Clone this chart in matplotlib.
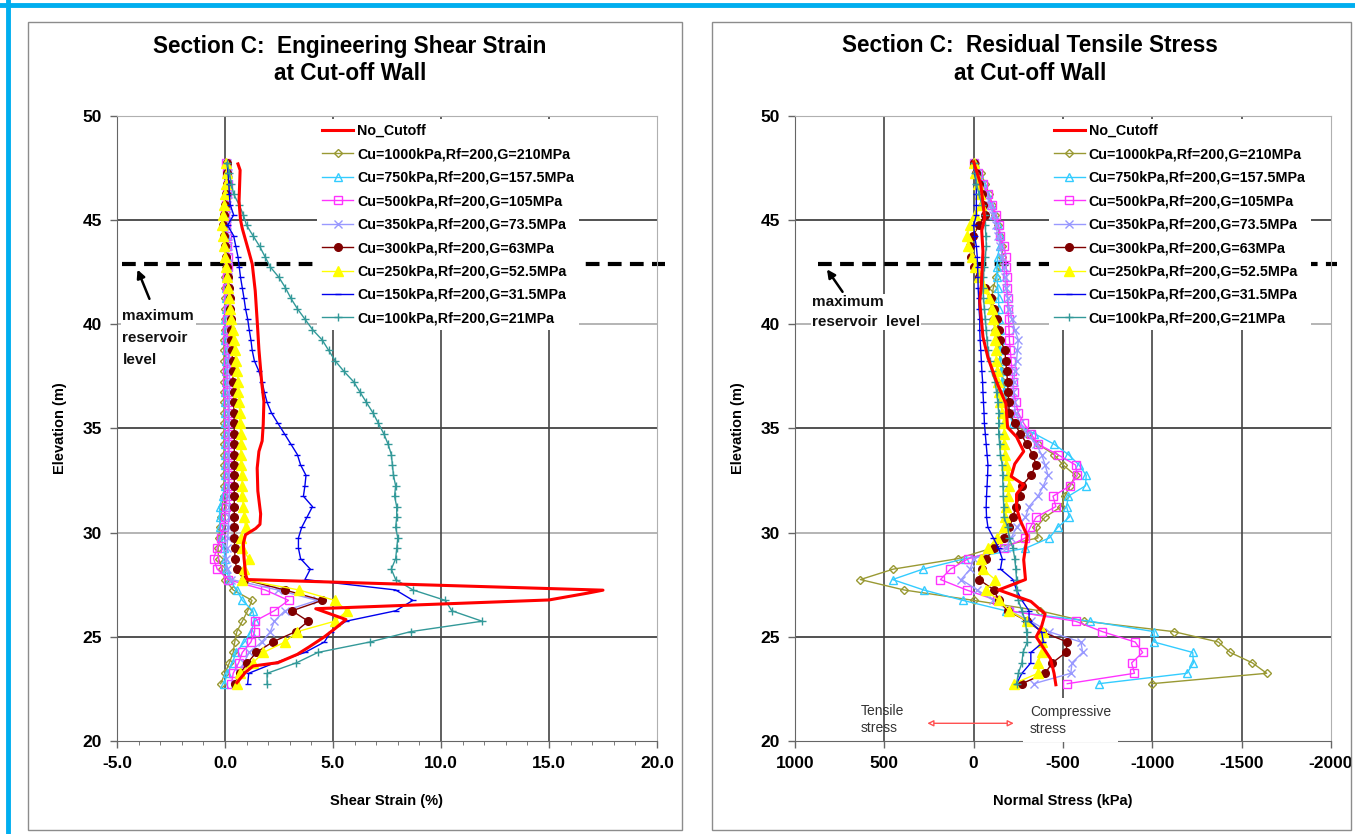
"""
Section C at the cut-off wall: engineering shear strain and residual
normal stress against elevation, for the no-cutoff case and 8 wall strengths.
"""

import matplotlib.pyplot as plt
from matplotlib.lines import Line2D
from matplotlib.patches import Rectangle

plt.rcParams["font.family"] = ["Liberation Sans", "DejaVu Sans"]
plt.rcParams["font.weight"] = "bold"
plt.rcParams["axes.unicode_minus"] = False

# ---------------------------------------------------------------- data
ELEV = [47.75, 47.25, 46.75, 46.25, 45.75, 45.25, 44.75, 44.25, 43.75, 43.25,
        42.75, 42.25, 41.75, 41.25, 40.75, 40.25, 39.75, 39.25, 38.75, 38.25,
        37.75, 37.25, 36.75, 36.25, 35.75, 35.25, 34.75, 34.25, 33.75, 33.25,
        32.75, 32.25, 31.75, 31.25, 30.75, 30.25, 29.75, 29.25, 28.75, 28.25,
        27.75, 27.25, 26.75, 26.25, 25.75, 25.25, 24.75, 24.25, 23.75, 23.25,
        22.75]

SERIES = [
    "Cu=1000kPa,Rf=200,G=210MPa",
    "Cu=750kPa,Rf=200,G=157.5MPa",
    "Cu=500kPa,Rf=200,G=105MPa",
    "Cu=350kPa,Rf=200,G=73.5MPa",
    "Cu=300kPa,Rf=200,G=63MPa",
    "Cu=250kPa,Rf=200,G=52.5MPa",
    "Cu=150kPa,Rf=200,G=31.5MPa",
    "Cu=100kPa,Rf=200,G=21MPa",
]

# shear strain (%) -- no cut-off case has its own elevations
strain_nocut_elev = [47.7, 47.4, 45.9, 45.0, 44.6, 43.5, 42.9, 41.6, 40.0, 38.8,
                     37.2, 36.3, 35.2, 34.4, 33.9, 33.1, 32.0, 30.9, 30.4, 30.2,
                     29.9, 29.5, 28.8, 28.0, 27.75, 27.24, 27.1, 26.77, 26.35, 25.83,
                     25.4, 25.0, 24.52, 24.16, 23.76, 23.6, 23.3, 22.8]
strain_nocut = [0.6, 0.7, 0.65, 0.72, 0.8, 1.1, 1.26, 1.4, 1.5, 1.57,
                1.7, 1.8, 1.77, 1.72, 1.57, 1.49, 1.52, 1.65, 1.62, 1.42,
                0.95, 0.85, 0.88, 0.95, 1.03, 17.5, 16.8, 15.0, 4.2, 5.6,
                5.1, 4.6, 3.9, 3.35, 2.45, 1.3, 0.95, 0.55]

strain_1000 = [0.05, 0.1, 0.1, 0.05, 0.0, -0.05, -0.05, 0.0, 0.05, 0.05,
               0.05, 0.0, 0.0, 0.0, 0.0, 0.0, 0.0, -0.05, -0.05, -0.05,
               -0.05, -0.05, -0.05, -0.05, -0.05, -0.05, -0.05, -0.05, -0.05, -0.05,
               -0.05, -0.05, -0.05, -0.15, -0.2, -0.25, -0.28, -0.32, -0.3, -0.12,
               0.0, 0.38, 1.25, 1.05, 0.8, 0.55, 0.45, 0.38, 0.2, 0.0,
               -0.2]
strain_750 = [0.1, 0.15, 0.15, 0.1, 0.1, 0.05, 0.05, 0.05, 0.1, 0.1,
              0.1, 0.05, 0.05, 0.05, 0.05, 0.0, 0.0, 0.0, 0.05, 0.05,
              0.05, 0.05, 0.0, 0.0, 0.0, 0.0, 0.0, 0.0, 0.0, 0.0,
              0.0, 0.0, -0.1, -0.25, -0.25, -0.22, -0.18, -0.05, 0.0, 0.05,
              0.2, 0.54, 0.8, 1.29, 1.37, 1.2, 0.9, 0.5, 0.35, 0.1,
              -0.03]
strain_500 = [0.05, 0.1, 0.15, 0.1, 0.05, 0.0, 0.05, 0.1, 0.1, 0.15,
              0.15, 0.1, 0.1, 0.15, 0.15, 0.1, 0.1, 0.1, 0.15, 0.15,
              0.1, 0.1, 0.1, 0.15, 0.15, 0.15, 0.15, 0.15, 0.15, 0.15,
              0.15, 0.15, 0.1, 0.05, 0.0, -0.05, -0.2, -0.36, -0.53, -0.36,
              0.13, 1.86, 2.94, 2.28, 1.37, 1.37, 1.2, 0.8, 0.63, 0.38,
              0.3]
strain_350 = [0.1, 0.15, 0.15, 0.15, 0.1, 0.1, 0.1, 0.15, 0.15, 0.15,
              0.15, 0.15, 0.15, 0.2, 0.2, 0.2, 0.2, 0.2, 0.2, 0.2,
              0.2, 0.2, 0.2, 0.2, 0.2, 0.2, 0.2, 0.2, 0.2, 0.2,
              0.2, 0.2, 0.2, 0.2, 0.18, 0.15, 0.13, 0.08, 0.05, 0.1,
              0.3, 2.44, 4.26, 2.77, 2.28, 2.1, 1.7, 1.12, 0.87, 0.63,
              0.46]
strain_300 = [0.1, 0.1, 0.1, 0.05, 0.0, -0.05, -0.1, -0.05, 0.0, 0.05,
              0.1, 0.15, 0.2, 0.22, 0.25, 0.28, 0.3, 0.3, 0.32, 0.35,
              0.35, 0.38, 0.4, 0.4, 0.42, 0.42, 0.43, 0.43, 0.43, 0.43,
              0.43, 0.43, 0.43, 0.43, 0.43, 0.43, 0.43, 0.45, 0.46, 0.54,
              0.87, 2.77, 4.5, 3.1, 3.85, 3.27, 2.2, 1.45, 1.04, 0.71,
              0.46]
strain_250 = [0.05, 0.1, 0.05, 0.0, -0.05, -0.1, -0.15, -0.1, -0.05, 0.0,
              0.05, 0.1, 0.15, 0.2, 0.25, 0.3, 0.35, 0.4, 0.45, 0.5,
              0.55, 0.6, 0.62, 0.65, 0.68, 0.7, 0.72, 0.72, 0.74, 0.75,
              0.78, 0.8, 0.8, 0.85, 0.9, 0.95, 0.75, 0.8, 1.1, 0.9,
              0.8, 3.43, 5.08, 5.66, 5.08, 3.35, 2.77, 1.78, 1.29, 0.71,
              0.54]
strain_150 = [0.1, 0.14, 0.18, 0.2, 0.24, 0.4, 0.12, 0.4, 0.5, 0.6,
              0.66, 0.72, 0.8, 0.88, 0.95, 1.05, 1.12, 1.2, 1.26, 1.36,
              1.57, 1.72, 1.82, 1.95, 2.15, 2.45, 2.75, 3.05, 3.35, 3.5,
              3.75, 3.7, 3.63, 4.05, 3.8, 3.55, 3.4, 3.4, 3.5, 3.95,
              3.7, 7.9, 8.7, 7.9, 5.6, 4.9, 4.6, 3.7, 2.3, 1.1,
              1.05]
strain_100 = [0.1, 0.2, 0.3, 0.4, 0.65, 0.85, 1.0, 1.3, 1.6, 1.85,
              2.1, 2.5, 2.8, 3.05, 3.35, 3.7, 4.05, 4.5, 4.8, 5.1,
              5.5, 5.95, 6.25, 6.55, 6.85, 7.1, 7.35, 7.55, 7.7, 7.75,
              7.8, 7.9, 7.85, 7.95, 7.95, 7.9, 8.0, 7.95, 7.9, 7.7,
              7.9, 8.7, 10.2, 10.5, 11.9, 8.6, 6.7, 4.3, 3.3, 1.95,
              1.95]

# normal stress (kPa), compressive negative
stress_nocut_elev = [47.8, 46.7, 45.1, 44.5, 43.5, 41.9, 41.1, 39.4, 38.4, 37.2,
                     36.2, 35.05, 34.6, 33.9, 33.3, 32.7, 32.3, 31.85, 31.2, 30.6,
                     29.85, 28.7, 27.75, 27.25, 26.7, 26.1, 25.5, 25.0, 23.95, 23.25,
                     22.7]
stress_nocut = [0, -40, -62, -45, -52, -43, -34, -52, -80, -130,
                -180, -190, -240, -280, -230, -210, -280, -240, -240, -260,
                -300, -280, -290, -140, -320, -400, -380, -350, -430, -450,
                -460]

stress_1000 = [-5, -40, -65, -85, -105, -120, -135, -145, -160, -160,
               -145, -125, -110, -100, -100, -110, -120, -130, -140, -150,
               -160, -165, -175, -185, -200, -230, -300, -360, -450, -500,
               -570, -540, -510, -490, -400, -350, -360, -100, 90, 450,
               634, 390, 0, -370, -620, -1120, -1370, -1436, -1560, -1640,
               -996]
stress_750 = [-5, -30, -55, -75, -95, -115, -135, -150, -145, -135,
              -130, -130, -135, -140, -140, -140, -145, -150, -150, -150,
              -155, -160, -170, -180, -195, -220, -340, -450, -530, -590,
              -630, -626, -530, -520, -536, -470, -424, -290, 50, 284,
              454, 280, 60, -180, -650, -1010, -1010, -1226, -1230, -1194,
              -700]
stress_500 = [0, -25, -50, -80, -105, -125, -140, -150, -170, -180,
              -182, -185, -188, -190, -192, -195, -198, -200, -205, -210,
              -215, -220, -225, -235, -250, -280, -320, -360, -470, -570,
              -580, -540, -444, -460, -350, -316, -290, -170, 30, 130,
              186, 40, -130, -200, -570, -720, -904, -946, -884, -900,
              -524]
stress_350 = [0, -20, -45, -70, -90, -110, -125, -135, -150, -160,
              -170, -175, -180, -190, -200, -215, -230, -250, -245, -240,
              -230, -225, -220, -225, -235, -260, -300, -350, -380, -400,
              -416, -390, -360, -310, -290, -240, -210, -180, 0, 20,
              70, -20, -110, -200, -320, -420, -600, -610, -550, -544,
              -336]
stress_300 = [0, -15, -30, -45, -55, -62, -30, 5, 20, 15,
              0, -30, -65, -95, -115, -130, -140, -150, -174, -180,
              -184, -190, -193, -196, -200, -230, -260, -300, -330, -350,
              -320, -270, -260, -236, -220, -200, -170, -116, -70, -45,
              -30, -114, -140, -190, -300, -380, -524, -516, -440, -400,
              -270]
stress_250 = [0, -10, -25, -35, -43, -10, 20, 40, 30, 10,
              -10, -30, -60, -85, -100, -110, -118, -122, -125, -127,
              -130, -135, -140, -150, -160, -170, -170, -170, -175, -180,
              -190, -200, -190, -180, -175, -170, -130, -80, -40, -50,
              -120, -70, -140, -200, -300, -390, -385, -380, -360, -360,
              -224]
stress_150 = [0, -5, -15, -15, -15, -15, 0, -5, -15, -20,
              -22, -24, -25, -28, -30, -34, -34, -36, -40, -43,
              -46, -50, -52, -55, -58, -60, -65, -70, -75, -80,
              -78, -75, -72, -70, -72, -80, -110, -140, -160, -150,
              -220, -240, -270, -310, -310, -380, -390, -320, -320, -270,
              -240]
stress_100 = [0, -10, -15, -30, -45, -62, -65, -68, -71, -65,
              -58, -55, -52, -55, -60, -65, -70, -75, -80, -90,
              -100, -120, -128, -135, -140, -140, -140, -145, -150, -160,
              -162, -164, -166, -168, -170, -190, -200, -220, -230, -236,
              -240, -240, -250, -270, -290, -296, -300, -276, -270, -250,
              -240]

strain_series = [strain_1000, strain_750, strain_500, strain_350,
                 strain_300, strain_250, strain_150, strain_100]
stress_series = [stress_1000, stress_750, stress_500, stress_350,
                 stress_300, stress_250, stress_150, stress_100]

RESERVOIR_LEVEL = 42.9

# ---------------------------------------------------------------- styles
styles = [
    {"color": "#999933", "marker": "D", "mfc": "none", "ms": 4.5},
    {"color": "#33CCFF", "marker": "^", "mfc": "none", "ms": 6},
    {"color": "#FF33FF", "marker": "s", "mfc": "none", "ms": 5.5},
    {"color": "#9999FF", "marker": "x", "mfc": "none", "ms": 5.5},
    {"color": "#800000", "marker": "o", "mfc": "#800000", "ms": 5.5},
    {"color": "#FFFF00", "marker": "^", "mfc": "#FFFF00", "ms": 6.5},
    {"color": "#0000EE", "marker": "_", "mfc": "#0000EE", "ms": 5},
    {"color": "#339999", "marker": "+", "mfc": "#339999", "ms": 6},
]
RED = "#FF0000"

W, H = 1355, 834
fig = plt.figure(figsize=(W / 100, H / 100), dpi=100)

# page decorations: cyan frame, grey panel boxes
fig.add_artist(Line2D([0, 1], [1 - 5 / H, 1 - 5 / H], color="#00AEEF", lw=3.5))
fig.add_artist(Line2D([8 / W, 8 / W], [0, 1], color="#00AEEF", lw=3.5))
for x0, x1 in [(28, 682), (712, 1351)]:
    fig.add_artist(Rectangle((x0 / W, 1 - 830 / H), (x1 - x0) / W, (830 - 22) / H,
                             fill=False, ec="#8c8c8c", lw=1, transform=fig.transFigure))


def style_axes(ax, vgrid):
    ax.set_ylim(20, 50)
    ax.set_yticks([20, 25, 30, 35, 40, 45, 50])
    for y, c in [(45, "#222222"), (40, "#a0a0a0"), (35, "#222222"),
                 (30, "#a0a0a0"), (25, "#222222")]:
        ax.axhline(y, color=c, lw=1.1, zorder=0.5)
    for x in vgrid:
        ax.axvline(x, color="#444444", lw=1.2, zorder=0.5)
    for side in ["top", "right"]:
        ax.spines[side].set_color("#b0b0b0")
    for side in ["left", "bottom"]:
        ax.spines[side].set_color("#666666")
    ax.tick_params(axis="both", which="major", direction="out", length=5,
                   color="#666666", labelsize=12.5, width=1, pad=6)
    ax.tick_params(axis="both", which="minor", direction="out", length=3,
                   color="#666666")
    for lbl in ax.get_xticklabels() + ax.get_yticklabels():
        lbl.set_fontweight("bold")
    ax.set_ylabel("Elevation (m)", fontsize=10.5, fontweight="bold", labelpad=11)


def draw_curves(ax, nocut_x, nocut_y, series):
    ax.plot(nocut_x, nocut_y, color=RED, lw=2.2, label="No_Cutoff", zorder=4)
    for vals, lab, st in zip(series, SERIES, styles):
        ax.plot(vals, ELEV, color=st["color"], lw=1, marker=st["marker"],
                ms=st["ms"], mfc=st["mfc"], mec=st["color"], mew=1,
                label=lab, zorder=3)


def add_legend(ax, x_anchor):
    leg = ax.legend(loc="upper left", bbox_to_anchor=(x_anchor, 1.0), fontsize=10.3,
                    frameon=True, facecolor="white", edgecolor="none", framealpha=1,
                    handlelength=2.2, handletextpad=0.25, labelspacing=0.66,
                    borderpad=0.35, borderaxespad=0.2)
    leg.set_zorder(6)


# ---------------------------------------------------------------- left panel
ax1 = fig.add_axes([117 / W, 1 - 741 / H, 540 / W, 625 / H])
ax1.set_xlim(-5, 20)
ax1.set_xticks([-5, 0, 5, 10, 15, 20])
ax1.set_xticklabels(["-5.0", "0.0", "5.0", "10.0", "15.0", "20.0"])
ax1.set_xticks(range(-5, 21), minor=True)
style_axes(ax1, [0, 5, 10, 15])
draw_curves(ax1, strain_nocut, strain_nocut_elev, strain_series)
ax1.axhline(RESERVOIR_LEVEL, xmin=0.01, xmax=1.015, color="black", lw=3,
            dashes=(3.3, 2.0), zorder=2, clip_on=False)
ax1.set_xlabel("Shear Strain (%)", fontsize=10.5, fontweight="bold", labelpad=16)
add_legend(ax1, 0.365)
ax1.text(-4.75, 40.75, "maximum\nreservoir\nlevel", fontsize=11, fontweight="bold",
         va="top", ha="left", linespacing=1.72, color="#111111", zorder=5,
         bbox=dict(fc="white", ec="none", pad=1))
ax1.annotate("", xy=(-4.1, 42.75), xytext=(-3.45, 41.1),
             arrowprops=dict(arrowstyle="-|>", color="black", lw=1.8,
                             mutation_scale=12), zorder=5)
fig.text(350 / W, 1 - 46 / H, "Section C:  Engineering Shear Strain",
         ha="center", va="center", fontsize=16.3, fontweight="bold")
fig.text(350 / W, 1 - 74 / H, "at Cut-off Wall",
         ha="center", va="center", fontsize=16.3, fontweight="bold")

# ---------------------------------------------------------------- right panel
ax2 = fig.add_axes([795 / W, 1 - 741 / H, 536 / W, 625 / H])
ax2.set_xlim(1000, -2000)
ax2.set_xticks([1000, 500, 0, -500, -1000, -1500, -2000])
style_axes(ax2, [500, 0, -500, -1000, -1500])
draw_curves(ax2, stress_nocut, stress_nocut_elev, stress_series)
ax2.axhline(RESERVOIR_LEVEL, xmin=0.043, xmax=1.012, color="black", lw=3,
            dashes=(3.3, 2.0), zorder=2, clip_on=False)
ax2.set_xlabel("Normal Stress (kPa)", fontsize=10.5, fontweight="bold", labelpad=16)
add_legend(ax2, 0.468)
ax2.text(905, 41.4, "maximum\nreservoir  level", fontsize=11, fontweight="bold",
         va="top", ha="left", linespacing=1.5, color="#111111", zorder=5,
         bbox=dict(fc="white", ec="none", pad=1))
ax2.annotate("", xy=(830, 42.75), xytext=(725, 41.45),
             arrowprops=dict(arrowstyle="-|>", color="black", lw=1.8,
                             mutation_scale=12), zorder=5)
ax2.text(630, 21.05, "Tensile\nstress", fontsize=10, fontweight="normal",
         color="#333333", va="center", ha="left", linespacing=1.25)
ax2.text(-315, 21.0, "Compressive\nstress", fontsize=10, fontweight="normal",
         color="#333333", va="center", ha="left", linespacing=1.25, zorder=6,
         clip_on=False, bbox=dict(fc="white", ec="none", pad=5))
ax2.annotate("", xy=(-240, 20.85), xytext=(275, 20.85),
             arrowprops=dict(arrowstyle="<|-|>", color="#FF5050", fc="white",
                             lw=1, mutation_scale=9), zorder=5)
fig.text(1030 / W, 1 - 46 / H, "Section C:  Residual Tensile Stress",
         ha="center", va="center", fontsize=16.3, fontweight="bold")
fig.text(1030 / W, 1 - 74 / H, "at Cut-off Wall",
         ha="center", va="center", fontsize=16.3, fontweight="bold")

fig.savefig("out.png", dpi=100)
